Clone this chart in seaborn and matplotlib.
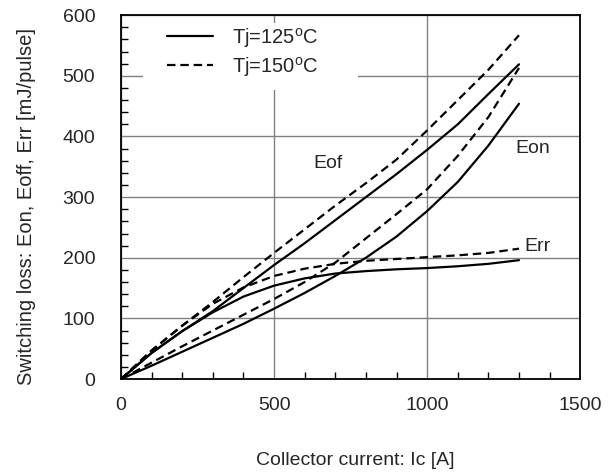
import matplotlib
matplotlib.use("Agg")
import matplotlib.pyplot as plt
import seaborn as sns
import pandas as pd
from matplotlib.lines import Line2D
from matplotlib.patches import Rectangle
from matplotlib.ticker import MultipleLocator

# ---- data ----
ic = [0, 100, 200, 300, 400, 500, 600, 700, 800, 900, 1000, 1100, 1200, 1300]
eof_125 = [0, 43, 79, 112, 150, 188, 224, 262, 300, 338, 378, 420, 470, 519]
eof_150 = [0, 47, 88, 127, 168, 208, 247, 286, 323, 362, 410, 460, 510, 567]
eon_125 = [0, 22, 45, 68, 91, 116, 142, 170, 200, 235, 277, 325, 385, 454]
eon_150 = [0, 27, 54, 80, 106, 132, 160, 192, 232, 272, 313, 368, 432, 513]
err_125 = [0, 43, 79, 110, 136, 154, 166, 174, 178, 181, 183, 186, 190, 196]
err_150 = [0, 47, 88, 124, 151, 170, 182, 190, 195, 198, 201, 204, 208, 215]

series = {
    ("Eof", "125"): eof_125, ("Eof", "150"): eof_150,
    ("Eon", "125"): eon_125, ("Eon", "150"): eon_150,
    ("Err", "125"): err_125, ("Err", "150"): err_150,
}
legend_labels = [r"Tj=125$^{\mathrm{o}}$C", r"Tj=150$^{\mathrm{o}}$C"]
curve_labels = ["Eof", "Eon", "Err"]

rows = []
for (curve, tj), vals in series.items():
    for x, y in zip(ic, vals):
        rows.append({"curve": curve, "tj": tj, "Ic": x, "E": y})
df = pd.DataFrame(rows)

sns.set_style("white")
plt.rcParams["font.family"] = ["Liberation Sans", "DejaVu Sans"]
plt.rcParams["mathtext.fontset"] = "custom"
plt.rcParams["mathtext.rm"] = "Liberation Sans"

fig = plt.figure(figsize=(6.14, 4.75), dpi=100)
ax = fig.add_axes([0.197, 0.202, 0.748, 0.766])

styles = {"125": "-", "150": (0, (3.8, 2.2))}
for (curve, tj), sub in df.groupby(["curve", "tj"]):
    sns.lineplot(data=sub, x="Ic", y="E", ax=ax, color="black",
                 linewidth=1.6, linestyle=styles[tj], estimator=None,
                 legend=False, zorder=3)

ax.set_xlim(0, 1500)
ax.set_ylim(0, 600)
ax.xaxis.set_major_locator(MultipleLocator(500))
ax.xaxis.set_minor_locator(MultipleLocator(100))
ax.yaxis.set_major_locator(MultipleLocator(100))
ax.yaxis.set_minor_locator(MultipleLocator(20))
ax.grid(True, which="major", color="#808080", linewidth=1.0)
ax.set_axisbelow(True)
ax.tick_params(which="both", direction="in", bottom=True, left=True,
               top=False, right=False, labelsize=14, color="black")
ax.tick_params(which="major", length=0, width=1)
ax.tick_params(which="minor", length=5, width=1)
ax.tick_params(axis="x", which="major", pad=13)
ax.tick_params(axis="y", which="major", pad=18.5)
for s in ax.spines.values():
    s.set_color("black")
    s.set_linewidth(1.3)

ax.set_xlabel("Collector current: Ic [A]", fontsize=14)
ax.set_ylabel("Switching loss: Eon, Eoff, Err [mJ/pulse]", fontsize=14.5)
ax.xaxis.set_label_coords(0.51, -0.2)
ax.yaxis.set_label_coords(-0.185, 0.475)

# curve annotations
ax.text(676, 356, curve_labels[0], fontsize=14, ha="center", va="center")
ax.text(1288, 381, curve_labels[1], fontsize=14, ha="left", va="center")
ax.text(1317, 218, curve_labels[2], fontsize=14, ha="left", va="center")

# white box behind the legend (covers the grid)
ax.add_patch(Rectangle((0.048, 0.794), 0.468, 0.185, transform=ax.transAxes,
                       facecolor="white", edgecolor="none", zorder=1))

handles = [Line2D([0], [0], color="black", linewidth=1.6, linestyle=styles["125"]),
           Line2D([0], [0], color="black", linewidth=1.6, linestyle=styles["150"])]
leg = ax.legend(handles, legend_labels, loc="center left",
                bbox_to_anchor=(0.100, 0.898), fontsize=14.5, frameon=False,
                handlelength=2.3, handletextpad=0.95, borderpad=0.0,
                borderaxespad=0.0, labelspacing=0.25)

fig.savefig("out.png", dpi=100)
